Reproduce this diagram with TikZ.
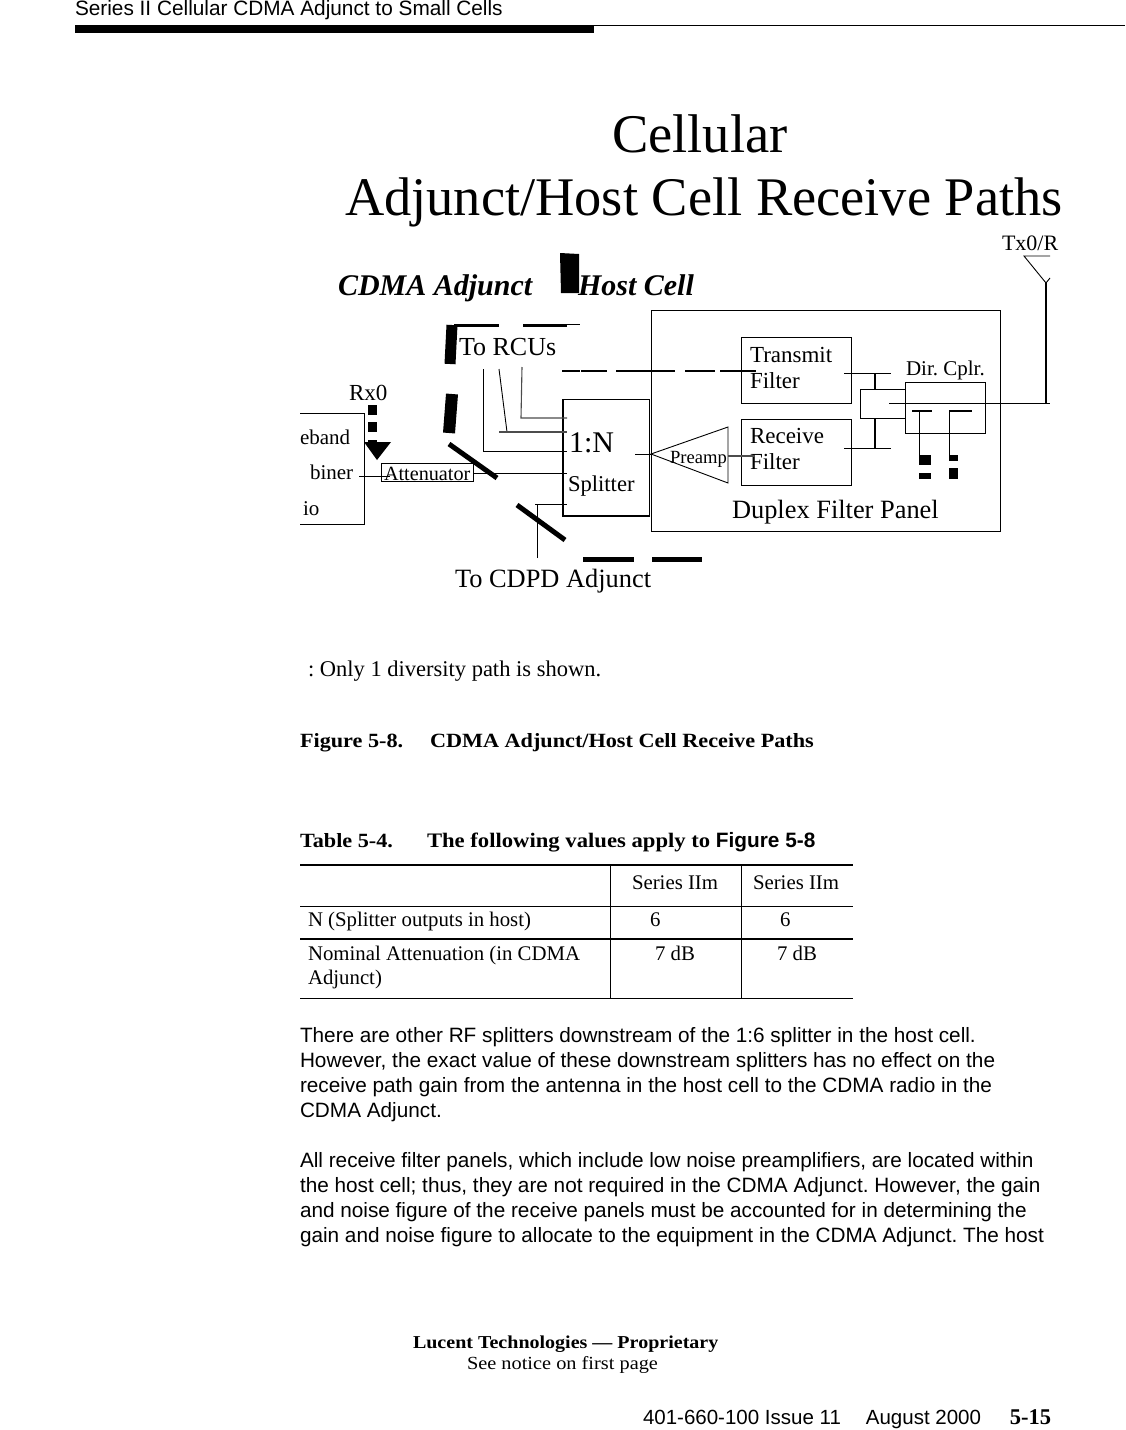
\documentclass[tikz,border=0pt]{standalone}
\usepackage{fontspec}
\setmainfont{Liberation Serif}
\setsansfont{Liberation Sans}
\newfontfamily\pal[FakeStretch=1.1]{Liberation Serif}
\newcommand{\fsz}[1]{\fontsize{#1}{#1}\selectfont}
\tikzset{
  txt/.style={inner sep=0pt,outer sep=0pt,anchor=base west},
  boxn/.style={draw=black,line width=0.9pt,inner sep=0pt,outer sep=0pt},
  wire/.style={draw=black,line width=0.9pt},
  greywire/.style={draw=black!70,line width=1.1pt},
  medwire/.style={draw=black,line width=2.2pt},
  thickdash/.style={draw=black,line width=5pt},
  fat/.style={draw=black,line width=11pt}
}
\begin{document}
\frenchspacing
\begin{tikzpicture}[x=1pt,y=-1pt]
\useasboundingbox (0,0) rectangle (1125,1430);
\fill[white] (0,0) rectangle (1125,1430);
% header
\node[txt] (hdr) at (75,15) {\sffamily\fsz{20.8}Series II Cellular CDMA Adjunct to Small Cells};
\draw[line width=0.8pt] (75,25) -- (1125,25);
\fill[black] (75,25) rectangle (594,33);
% title
\node[txt] (t1) at (612,152) {\fsz{54.5}Cellular};
\node[txt] (t2) at (345,215) {\fsz{54.4}Adjunct/Host Cell Receive Paths};
\node[txt] (tx0) at (1002,250) {\fsz{22}Tx0/R};
\node[txt] (cdma) at (338,295) {\fsz{30}\bfseries\itshape CDMA Adjunct};
\node[txt] (host) at (578,295) {\fsz{30}\bfseries\itshape Host Cell};
% boxes
\node[boxn,minimum width=349pt,minimum height=221pt] (panel) at (825.5,420.5) {};
\node[boxn,minimum width=110pt,minimum height=66pt] (txf) at (796,370) {};
\node[boxn,minimum width=110pt,minimum height=66pt] (rxf) at (796,452) {};
\node[boxn,minimum width=45pt,minimum height=29pt] (sq) at (882.5,403.5) {};
\node[boxn,minimum width=80pt,minimum height=51pt] (cplr) at (945,407.5) {};
\node[boxn,minimum width=86pt,minimum height=117pt] (split) at (606,457.5) {};
\draw[line width=1.8pt] (split.north west) -- (split.south west) -- (split.south east);
\node[boxn,minimum width=92pt,minimum height=18pt] (att) at (427,472) {};
% radio box (open on the left)
\coordinate (radTL) at (300,413); \coordinate (radTR) at (364,413);
\coordinate (radBR) at (364,524); \coordinate (radBL) at (300,524);
\draw[wire] (radTL) -- (radTR) -- (radBR) -- (radBL);
% texts
\node[txt] (l1) at (750,362) {\fsz{23}Transmit};
\node[txt] (l2) at (750,388) {\fsz{23}Filter};
\node[txt] (l3) at (750,443) {\fsz{23}Receive};
\node[txt] (l4) at (750,469) {\fsz{23}Filter};
\node[txt] (l5) at (906,375) {\fsz{21}Dir. Cplr.};
\node[txt] (l6) at (732,518) {\fsz{26.4}Duplex Filter Panel};
\node[txt] (l7) at (670,463) {\fsz{18.6}Preamp};
\node[txt] (l8) at (569,452) {\fsz{30}1:N};
\node[txt] (l9) at (568,491) {\fsz{22.6}Splitter};
\node[txt] (l10) at (459,355) {\fsz{26}To RCUs};
\node[txt] (l11) at (455,587) {\fsz{26.4}To CDPD Adjunct};
\node[txt] (l12) at (349,400) {\fsz{23}Rx0};
\node[txt] (l13) at (300,444) {\fsz{21}eband};
\node[txt] (l14) at (310,479) {\fsz{21}biner};
\node[txt] (l15) at (303,515) {\fsz{21}io};
\node[txt] (l16) at (384,480) {\fsz{20.2}Attenuator};
% preamp
\coordinate (pA) at (651,454); \coordinate (pB) at (728,427); \coordinate (pC) at (728,483);
\draw[wire,line join=miter] (pA) -- (pB) -- (pC) -- cycle;
\coordinate (pIn) at (755,456); \coordinate (pOut) at (728,456);
\draw[greywire] (pIn) -- (pOut);
\coordinate (sOut) at (635,454);
\draw[wire] (sOut) -- (pA);
% filter outputs and duplexer
\coordinate (ta) at (844,373); \coordinate (tb) at (891,373);
\coordinate (ra) at (844,448); \coordinate (rb) at (891,448);
\draw[wire] (ta) -- (tb); \draw[wire] (ra) -- (rb);
\draw[medwire] (875,373) -- (875,389);
\draw[medwire] (875,418) -- (875,448);
% antenna
\coordinate (ant) at (1046,403); \coordinate (antT) at (1046,283);
\coordinate (antA) at (1024,256); \coordinate (antB) at (1050,256); \coordinate (antC) at (1050,278);
\coordinate (antIn) at (889,403); \coordinate (antEnd) at (1050,403);
\draw[wire] (antIn) -- (antEnd);
\draw[medwire] (ant) -- (antT);
\draw[wire] (antB) -- (antA) -- (antT) -- (antC);
% coupler ports
\draw[medwire] (912,411) -- (932,411);
\draw[medwire] (949,411) -- (972,411);
\draw[wire] (919,411) -- (919,455);
\draw[wire] (949,411) -- (949,455);
\fill (919,455) rectangle (931,465);
\fill (919,473) rectangle (931,479);
\fill (949,455) rectangle (958,461);
\fill (949,468) rectangle (958,479);
% rx dashed
\fill (368,405) rectangle (377,415);
\fill (368,422) rectangle (377,432);
\fill (368,440) rectangle (377,446);
\fill (364,442) -- (391,442) -- (377,460) -- cycle;
% connectors
\coordinate (rA) at (483,369); \coordinate (rAs) at (567,451);
\draw[wire] (rA) |- (rAs);
\coordinate (rB) at (499,369); \coordinate (rBk) at (507,432);
\coordinate (rBl) at (499,432); \coordinate (rBs) at (567,432);
\draw[wire] (rB) -- (rBk);
\draw[greywire] (rBl) -- (rBs);
\coordinate (rC) at (522,367); \coordinate (rCk) at (521,418); \coordinate (rCs) at (567,418);
\draw[greywire] (rC) -- (rCk) -- (rCs);
\coordinate (aIn) at (359,476);
\draw[wire] (aIn) -- (390,476);
\coordinate (aS) at (567,473);
\draw[wire] (att.east |- aS) -- (aS);
\coordinate (cA) at (537,558); \coordinate (cB) at (537,504); \coordinate (cS) at (567,504);
\draw[wire] (cA) -- (cB); \draw[wire] (535,504) -- (cS);
% the heavy dashes
\fill (560,253) -- (579,254) -- (579,293) -- (561,293) -- cycle;
\draw[line width=3pt] (454,325) -- (499,325);
\draw[line width=3pt] (523,325) -- (567,325);
\draw[wire] (567,324) -- (580,324);
\draw[fat] (452,325) -- (450,364);
\draw[line width=12pt] (452,394) -- (449,433);
\draw[thickdash] (449,444) -- (497,478);
\draw[thickdash] (517,505) -- (565,540);
\draw[thickdash] (583,559) -- (634,559);
\draw[thickdash] (652,559) -- (702,559);
\draw[medwire] (562,371) -- (580,371);
\draw[medwire] (581,371) -- (607,371);
\draw[medwire] (616,371) -- (675,371);
\draw[medwire] (685,371) -- (715,371);
\draw[medwire] (720,371) -- (756,371);
% note and captions
\node[txt] (note) at (308,676) {\fsz{22.5}: Only 1 diversity path is shown.};
\node[txt] (fig) at (300,747) {\pal\fsz{20.2}\bfseries Figure 5-8.};
\node[txt] (figT) at (430,747) {\pal\fsz{20.2}\bfseries CDMA Adjunct/Host Cell Receive Paths};
\node[txt] (tab) at (300,847) {\pal\fsz{20.2}\bfseries Table 5-4.};
\node[txt] (tabT) at (427,847) {\pal\fsz{20.6}\bfseries The following values apply to {\sffamily\fsz{20.8}Figure 5-8}};
% table
\coordinate (tl) at (300,865); \coordinate (tr) at (853,865);
\draw[line width=2pt] (tl) -- (tr);
\draw[wire] (300,906) -- (853,906);
\draw[line width=2pt] (300,939) -- (853,939);
\draw[wire] (300,998) -- (853,998);
\draw[wire] (610.5,865) -- (610.5,998);
\draw[wire] (741,865) -- (741,998);
\node[txt] (c1) at (632,889) {\fsz{20.8}Series IIm};
\node[txt] (c2) at (753,889) {\fsz{20.8}Series IIm};
\node[txt] (c3) at (308,926) {\fsz{20.8}N (Splitter outputs in host)};
\node[txt] (c4) at (650,926) {\fsz{20.8}6};
\node[txt] (c5) at (780,926) {\fsz{20.8}6};
\node[txt] (c6) at (308,960) {\fsz{20.8}Nominal Attenuation (in CDMA};
\node[txt] (c7) at (308,984) {\fsz{20.8}Adjunct)};
\node[txt] (c8) at (655,960) {\fsz{20.8}7 dB};
\node[txt] (c9) at (777,960) {\fsz{20.8}7 dB};
% body
\node[txt] (b1) at (300,1042) {\sffamily\fsz{20.75}There are other RF splitters downstream of the 1:6 splitter in the host cell.};
\node[txt] (b2) at (300,1067) {\sffamily\fsz{20.75}However, the exact value of these downstream splitters has no effect on the};
\node[txt] (b3) at (300,1092) {\sffamily\fsz{20.75}receive path gain from the antenna in the host cell to the CDMA radio in the};
\node[txt] (b4) at (300,1117) {\sffamily\fsz{20.75}CDMA Adjunct.};
\node[txt] (b5) at (300,1167) {\sffamily\fsz{20.75}All receive filter panels, which include low noise preamplifiers, are located within};
\node[txt] (b6) at (300,1192) {\sffamily\fsz{20.75}the host cell; thus, they are not required in the CDMA Adjunct. However, the gain};
\node[txt] (b7) at (300,1217) {\sffamily\fsz{20.75}and noise figure of the receive panels must be accounted for in determining the};
\node[txt] (b8) at (300,1242) {\sffamily\fsz{20.75}gain and noise figure to allocate to the equipment in the CDMA Adjunct. The host};
% footer
\node[txt] (f1) at (413,1348) {\pal\fsz{18.2}\bfseries Lucent Technologies — Proprietary};
\node[txt] (f2) at (467,1369) {\pal\fsz{18.5}See notice on first page};
\node[txt] (f3) at (643,1424) {\sffamily\fsz{20.5}401-660-100 Issue 11\hspace{25pt}August 2000};
\node[txt,anchor=base east] (f4) at (1051,1424) {\fsz{22.5}\bfseries 5-15};
\end{tikzpicture}
\end{document}
